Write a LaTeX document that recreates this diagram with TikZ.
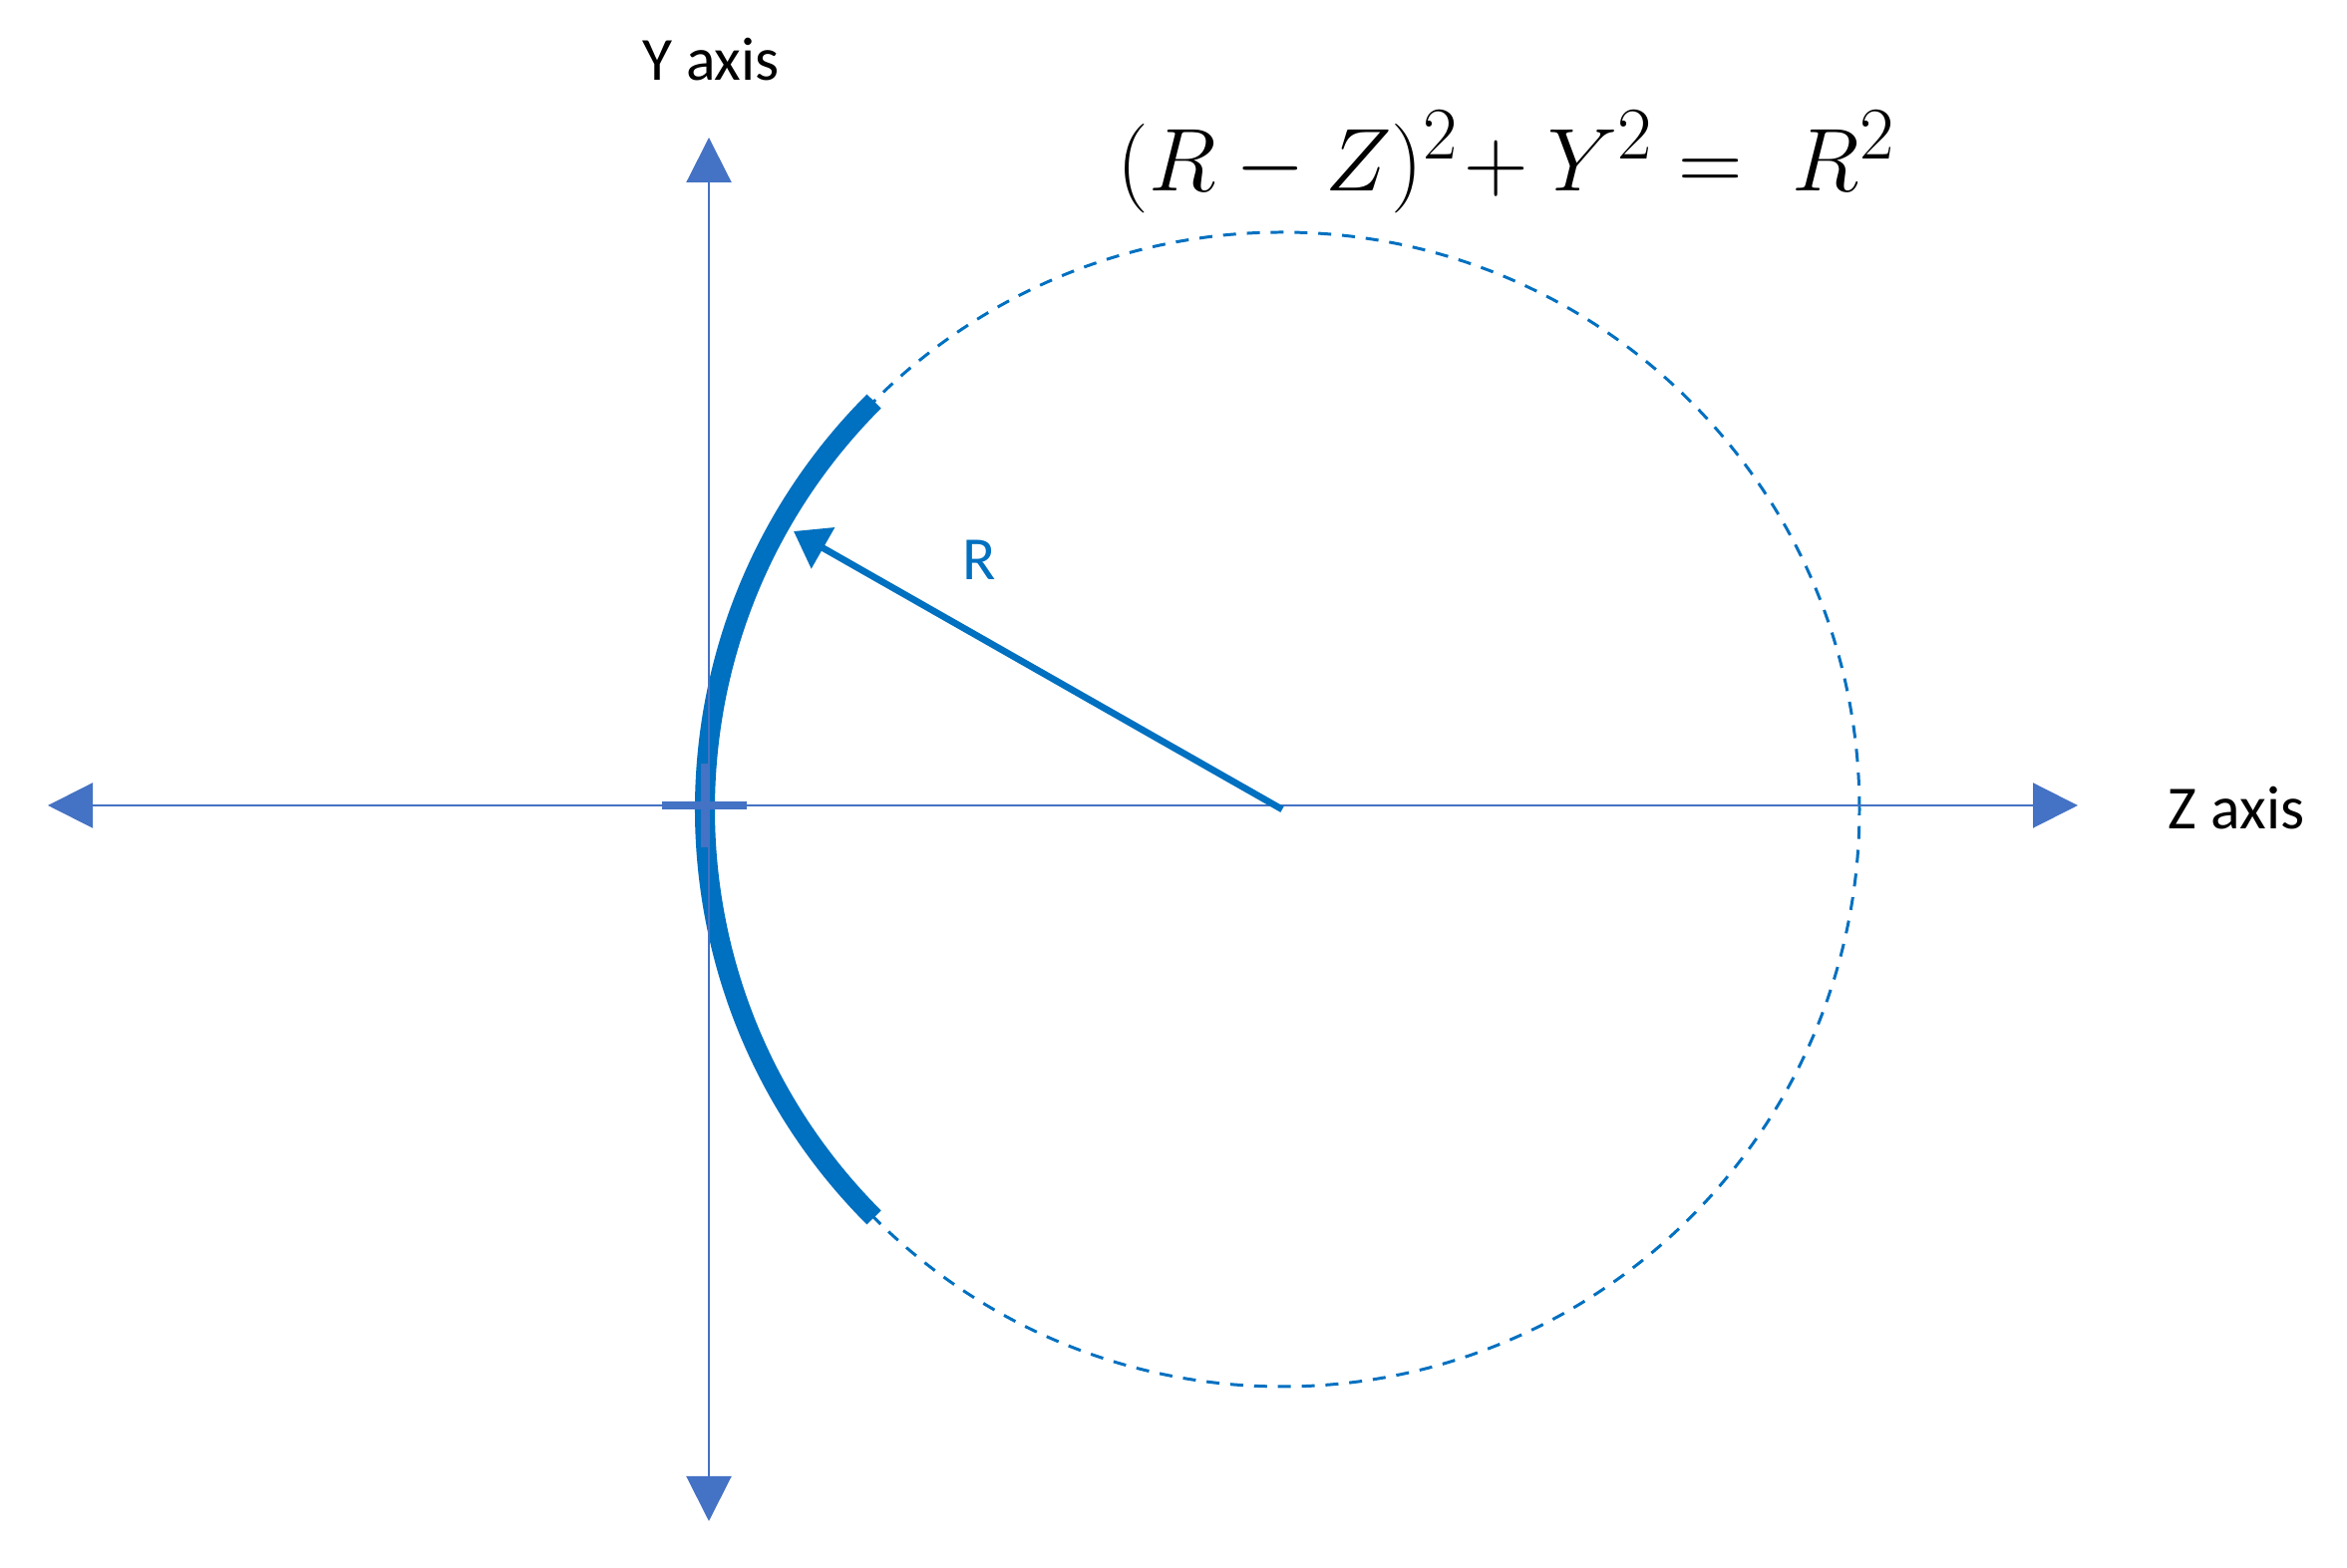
\documentclass[tikz,border=0pt]{standalone}
\usepackage{fontspec}
\setmainfont{Carlito}
\usetikzlibrary{arrows.meta}
\definecolor{axisblue}{HTML}{4472C4}
\definecolor{circblue}{HTML}{0070C0}

\begin{document}
\begin{tikzpicture}[x=1cm,y=1cm,
        axis/.style={draw=axisblue,line width=0.6pt,
          {Triangle[length=4.5mm,width=4.5mm]}-{Triangle[length=4.5mm,width=4.5mm]}},
        lbl/.style={inner sep=0pt,font=\fontsize{17.5}{20}\selectfont}]%
        \useasboundingbox (0,0) rectangle (23.54,15.73);%%
        \coordinate (ytop) at (7.11,14.35); %%
        \coordinate (ybot) at (7.11,0.47); %%
        \coordinate (zleft) at (0.48,7.65); %%
        \coordinate (zright) at (20.84,7.65); %%
        \coordinate (o) at (7.07,7.65); %%
        \coordinate (c) at (12.86,7.61); %%
        \coordinate (rtip) at (7.96,10.40); %%
        % circle and the part of it that is kept
        \draw[circblue,line width=0.85pt,dash pattern=on 3.7pt off 3.1pt] (c) circle (5.79); %%
        \draw[circblue,line width=5.7pt] ([shift={(135:5.79)}]c) arc[start angle=135,end angle=225,radius=5.79]; %%
        % axes
        \draw[axis] (ybot)--(ytop); %%
        \draw[axis] (zleft)--(zright); %%
        \draw[axisblue,line width=2pt] (o) +(-0.43,0) -- +(0.42,0); %%
        \draw[axisblue,line width=2pt] (o) +(0,-0.42) -- +(0,0.42); %%
        % radius
        \draw[circblue,line width=1.9pt,-{Triangle[length=3.4mm,width=4.6mm]}] (c)--(rtip); %%
        \node[lbl,text=circblue] (rlab) at (9.82,10.11) {R}; %%
        \node[lbl] (ylab) at (7.13,15.13) {Y axis}; %%
        \node[lbl] (zlab) at (22.43,7.62) {Z axis}; %%
        \node[anchor=base,inner sep=0pt,font=\fontsize{24.88}{30}\selectfont] (eqn) at (15.11,13.81) {\scalebox{1.023}{$(R-Z)^2\!+Y^2=\;R^2$}}; %%
\end{tikzpicture}
\end{document}
